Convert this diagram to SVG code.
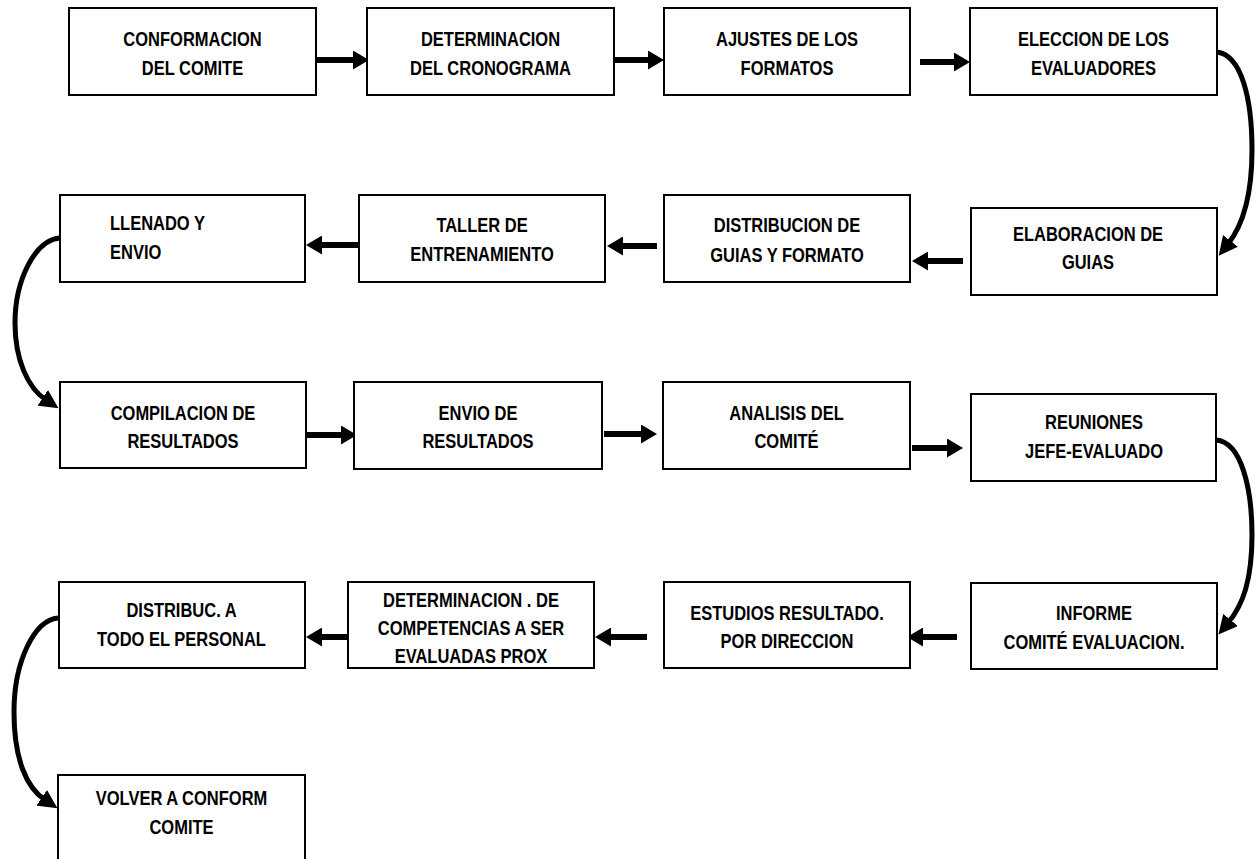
<svg xmlns="http://www.w3.org/2000/svg" width="1258" height="859" viewBox="0 0 1258 859">
<style>
.box{fill:#fff;stroke:#000;stroke-width:2}
.t{font-family:"Liberation Sans",Arial,sans-serif;font-weight:bold;font-size:16.5px;fill:#000;text-anchor:middle}
.ts{text-anchor:start}
.ar{stroke:#000;stroke-width:6;fill:none;marker-end:url(#ah)}
.cv{stroke:#000;stroke-width:5;fill:none;marker-end:url(#ch)}
</style>
<defs>
<marker id="ah" markerUnits="userSpaceOnUse" viewBox="0 0 16 19" refX="4" refY="9.5" markerWidth="16" markerHeight="19" orient="auto"><path d="M0,0 L16,9.5 L0,19 Z" fill="#000"/></marker>
<marker id="ch" markerUnits="userSpaceOnUse" viewBox="0 0 19 19" refX="4" refY="9.5" markerWidth="19" markerHeight="19" orient="auto"><path d="M0,0 L19,9.5 L0,19 Z" fill="#000"/></marker>
</defs>
<rect width="1258" height="859" fill="#fff"/>
<g id="connectors">
<line class="ar" x1="317" y1="60" x2="357" y2="60"/>
<line class="ar" x1="614" y1="60" x2="652" y2="60"/>
<line class="ar" x1="920" y1="62" x2="958" y2="62"/>
<line class="ar" x1="963" y1="261" x2="924" y2="261"/>
<line class="ar" x1="657" y1="246" x2="619" y2="246"/>
<line class="ar" x1="358" y1="245" x2="318" y2="245"/>
<line class="ar" x1="306" y1="435" x2="345" y2="435"/>
<line class="ar" x1="604" y1="434" x2="645" y2="434"/>
<line class="ar" x1="912" y1="448" x2="951" y2="448"/>
<line class="ar" x1="957" y1="637" x2="919" y2="637"/>
<line class="ar" x1="647" y1="637" x2="607" y2="637"/>
<line class="ar" x1="348" y1="637" x2="318" y2="637"/>
<path class="cv" d="M1216,52 C1242,54 1252,100 1252,150 C1252,195 1243,225 1228,244"/>
<path class="cv" d="M60,238 C35,240 15,280 15,323 C15,360 28,388 46,400"/>
<path class="cv" d="M1216,440 C1242,442 1252,490 1252,535 C1252,580 1243,605 1228,623"/>
<path class="cv" d="M58,618 C35,620 14,660 14,712 C14,760 27,788 45,800"/>
</g>
<g id="n1"><rect class="box" x="69" y="8" width="247" height="87"/>
<text class="t" transform="translate(192.5,46) scale(1,1.25)">CONFORMACION</text>
<text class="t" transform="translate(192.5,75) scale(1,1.25)">DEL COMITE</text></g>
<g id="n2"><rect class="box" x="367" y="8" width="247" height="87"/>
<text class="t" transform="translate(490.5,46) scale(1,1.25)">DETERMINACION</text>
<text class="t" transform="translate(490.5,75) scale(1,1.25)">DEL CRONOGRAMA</text></g>
<g id="n3"><rect class="box" x="664" y="8" width="246" height="87"/>
<text class="t" transform="translate(787,46) scale(1,1.25)">AJUSTES DE LOS</text>
<text class="t" transform="translate(787,75) scale(1,1.25)">FORMATOS</text></g>
<g id="n4"><rect class="box" x="970" y="8" width="247" height="87"/>
<text class="t" transform="translate(1093.5,46) scale(1,1.25)">ELECCION DE LOS</text>
<text class="t" transform="translate(1093.5,75) scale(1,1.25)">EVALUADORES</text></g>
<g id="n5"><rect class="box" x="971" y="208" width="246" height="87"/>
<text class="t" transform="translate(1088,241) scale(1,1.25)">ELABORACION DE</text>
<text class="t" transform="translate(1088,269) scale(1,1.25)">GUIAS</text></g>
<g id="n6"><rect class="box" x="664" y="195" width="246" height="87"/>
<text class="t" transform="translate(787,232) scale(1,1.25)">DISTRIBUCION DE</text>
<text class="t" transform="translate(787,262) scale(1,1.25)">GUIAS Y FORMATO</text></g>
<g id="n7"><rect class="box" x="359" y="195" width="246" height="87"/>
<text class="t" transform="translate(482,232) scale(1,1.25)">TALLER DE</text>
<text class="t" transform="translate(482,261) scale(1,1.25)">ENTRENAMIENTO</text></g>
<g id="n8"><rect class="box" x="60" y="195" width="245" height="87"/>
<text class="t ts" transform="translate(110,230) scale(1,1.25)">LLENADO Y</text>
<text class="t ts" transform="translate(110,259) scale(1,1.25)">ENVIO</text></g>
<g id="n9"><rect class="box" x="60" y="382" width="246" height="86"/>
<text class="t" transform="translate(183,420) scale(1,1.25)">COMPILACION DE</text>
<text class="t" transform="translate(183,448) scale(1,1.25)">RESULTADOS</text></g>
<g id="n10"><rect class="box" x="354" y="382" width="248" height="87"/>
<text class="t" transform="translate(478,420) scale(1,1.25)">ENVIO DE</text>
<text class="t" transform="translate(478,448) scale(1,1.25)">RESULTADOS</text></g>
<g id="n11"><rect class="box" x="663" y="382" width="247" height="87"/>
<text class="t" transform="translate(786.5,420) scale(1,1.25)">ANALISIS DEL</text>
<text class="t" transform="translate(786.5,448) scale(1,1.25)">COMITÉ</text></g>
<g id="n12"><rect class="box" x="971" y="394" width="245" height="87"/>
<text class="t" transform="translate(1094,429) scale(1,1.25)">REUNIONES</text>
<text class="t" transform="translate(1094,458) scale(1,1.25)">JEFE-EVALUADO</text></g>
<g id="n13"><rect class="box" x="971" y="583" width="246" height="86"/>
<text class="t" transform="translate(1094,620) scale(1,1.25)">INFORME</text>
<text class="t" transform="translate(1094,649) scale(1,1.25)">COMITÉ EVALUACION.</text></g>
<g id="n14"><rect class="box" x="664" y="582" width="246" height="86"/>
<text class="t" transform="translate(787,620) scale(1,1.25)">ESTUDIOS RESULTADO.</text>
<text class="t" transform="translate(787,648) scale(1,1.25)">POR DIRECCION</text></g>
<g id="n15"><rect class="box" x="348" y="582" width="246" height="86"/>
<text class="t" transform="translate(471,607) scale(1,1.25)">DETERMINACION . DE</text>
<text class="t" transform="translate(471,635) scale(1,1.25)">COMPETENCIAS  A SER</text>
<text class="t" transform="translate(471,663) scale(1,1.25)">EVALUADAS PROX</text></g>
<g id="n16"><rect class="box" x="59" y="582" width="246" height="86"/>
<text class="t" transform="translate(181.5,617) scale(1,1.25)">DISTRIBUC. A</text>
<text class="t" transform="translate(181.5,646) scale(1,1.25)">TODO EL PERSONAL</text></g>
<g id="n17"><path class="box" d="M58,870 L58,775 L305,775 L305,870"/>
<text class="t" transform="translate(181.5,805) scale(1,1.25)">VOLVER A CONFORM</text>
<text class="t" transform="translate(181.5,834) scale(1,1.25)">COMITE</text></g>
</svg>
